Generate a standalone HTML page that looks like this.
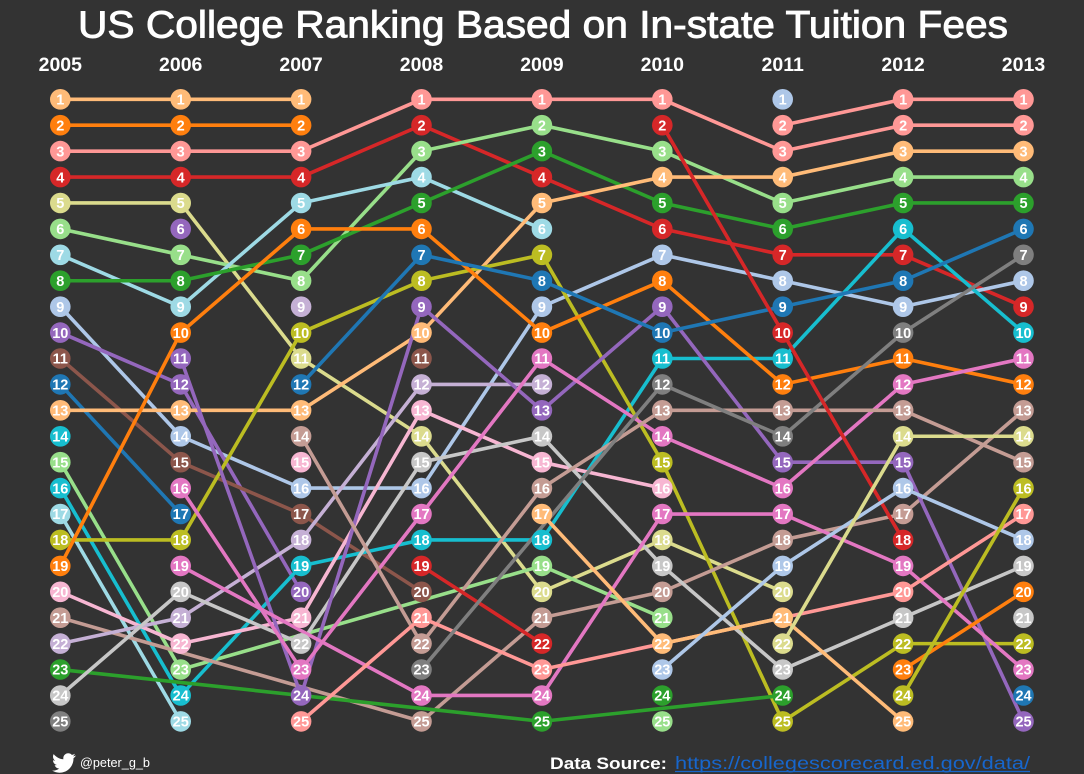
<!DOCTYPE html>
<html><head><meta charset="utf-8"><style>
html,body{margin:0;padding:0;background:#333333;}
svg{display:block;}
.lo{fill:#ffbb78}.o{fill:#ff7f0e}.lr{fill:#ff9896}.r{fill:#d62728}.lol{fill:#dbdb8d}.lg{fill:#98df8a}.lc{fill:#9edae5}.g{fill:#2ca02c}.lb{fill:#aec7e8}.p{fill:#9467bd}.br{fill:#8c564b}.b{fill:#1f77b4}.c{fill:#17becf}.pk{fill:#f7b6d2}.lbr{fill:#c49c94}.lp{fill:#c5b0d5}.lgy{fill:#c7c7c7}.gy{fill:#7f7f7f}.ol{fill:#bcbd22}.m{fill:#e377c2}
.col text{fill:#fff;font-family:"Liberation Sans",Arial,sans-serif;font-weight:bold;font-size:14.5px;text-anchor:middle;}
polyline{vector-effect:non-scaling-stroke;}
</style></head><body>
<svg width="1084" height="774" viewBox="0 0 1084 774" xmlns="http://www.w3.org/2000/svg">
<rect width="1084" height="774" fill="#333333"/>
<text x="78" y="37.5" fill="#fff" stroke="#fff" stroke-width="0.9" font-family="Liberation Sans, Arial, sans-serif" font-size="38" textLength="930" lengthAdjust="spacingAndGlyphs">US College Ranking Based on In-state Tuition Fees</text>
<g fill="#fff" font-family="Liberation Sans, Arial, sans-serif" font-weight="bold" font-size="19.5" text-anchor="middle">
<text x="60.3" y="71">2005</text><text x="180.7" y="71">2006</text><text x="301.1" y="71">2007</text><text x="421.5" y="71">2008</text><text x="541.9" y="71">2009</text><text x="662.3" y="71">2010</text><text x="782.7" y="71">2011</text><text x="903.1" y="71">2012</text><text x="1023.5" y="71">2013</text>
</g>
<g transform="translate(60.3,73.38) scale(120.4,25.92)" fill="none" stroke-width="3.6" stroke-linejoin="round" stroke-linecap="round">
<polyline vector-effect="non-scaling-stroke" stroke="#ffbb78" points="0,1 1,1 2,1"/>
<polyline vector-effect="non-scaling-stroke" stroke="#ff7f0e" points="0,2 1,2 2,2"/>
<polyline vector-effect="non-scaling-stroke" stroke="#ff9896" points="0,3 1,3 2,3 3,1 4,1 5,1 6,3 7,2 8,2"/>
<polyline vector-effect="non-scaling-stroke" stroke="#ff9896" points="6,2 7,1 8,1"/>
<polyline vector-effect="non-scaling-stroke" stroke="#d62728" points="0,4 1,4 2,4 3,2 4,4 5,6 6,7 7,7 8,9"/>
<polyline vector-effect="non-scaling-stroke" stroke="#dbdb8d" points="0,5 1,5 2,11 3,14 4,20 5,18 6,20"/>
<polyline vector-effect="non-scaling-stroke" stroke="#98df8a" points="0,6 1,7 2,8 3,3 4,2 5,3 6,5 7,4 8,4"/>
<polyline vector-effect="non-scaling-stroke" stroke="#9edae5" points="0,7 1,9 2,5 3,4 4,6"/>
<polyline vector-effect="non-scaling-stroke" stroke="#2ca02c" points="0,8 1,8 2,7 3,5 4,3 5,5 6,6 7,5 8,5"/>
<polyline vector-effect="non-scaling-stroke" stroke="#aec7e8" points="0,9 1,14 2,16 3,16 4,9 5,7 6,8 7,9 8,8"/>
<polyline vector-effect="non-scaling-stroke" stroke="#9467bd" points="0,10 1,12 2,20"/>
<polyline vector-effect="non-scaling-stroke" stroke="#8c564b" points="0,11 1,15 2,17 3,20"/>
<polyline vector-effect="non-scaling-stroke" stroke="#1f77b4" points="0,12 1,17"/>
<polyline vector-effect="non-scaling-stroke" stroke="#ffbb78" points="0,13 1,13 2,13 3,10 4,5 5,4 6,4 7,3 8,3"/>
<polyline vector-effect="non-scaling-stroke" stroke="#98df8a" points="0,15 1,23 4,19 5,21"/>
<polyline vector-effect="non-scaling-stroke" stroke="#17becf" points="0,16 1,24 2,19 3,18 4,18 5,11 6,11 7,6 8,10"/>
<polyline vector-effect="non-scaling-stroke" stroke="#9edae5" points="0,17 1,25"/>
<polyline vector-effect="non-scaling-stroke" stroke="#bcbd22" points="0,18 1,18 2,10 3,8 4,7 5,15 6,25 7,22 8,22"/>
<polyline vector-effect="non-scaling-stroke" stroke="#ff7f0e" points="0,19 1,10 2,6 3,6 4,10 5,8 6,12 7,11 8,12"/>
<polyline vector-effect="non-scaling-stroke" stroke="#f7b6d2" points="0,20 1,22 2,21 3,13 4,15 5,16"/>
<polyline vector-effect="non-scaling-stroke" stroke="#c49c94" points="0,21 3,25 4,21 5,20 6,18 7,17 8,13"/>
<polyline vector-effect="non-scaling-stroke" stroke="#c5b0d5" points="0,22 1,21 2,18 3,12 4,12"/>
<polyline vector-effect="non-scaling-stroke" stroke="#2ca02c" points="0,23 4,25 6,24"/>
<polyline vector-effect="non-scaling-stroke" stroke="#c7c7c7" points="0,24 1,20 2,22 3,15 4,14 5,19 6,23 7,21 8,19"/>
<polyline vector-effect="non-scaling-stroke" stroke="#9467bd" points="1,11 2,24 3,9 4,13 5,9 6,15 7,15 8,25"/>
<polyline vector-effect="non-scaling-stroke" stroke="#e377c2" points="1,16 2,23 3,17 4,11 5,14 6,16 7,12 8,11"/>
<polyline vector-effect="non-scaling-stroke" stroke="#e377c2" points="1,19 3,24 4,24 5,17 6,17 7,19 8,23"/>
<polyline vector-effect="non-scaling-stroke" stroke="#1f77b4" points="2,12 3,7 4,8 5,10 6,9 7,8 8,6"/>
<polyline vector-effect="non-scaling-stroke" stroke="#c49c94" points="2,14 3,22 4,16 5,13 6,13 7,13 8,15"/>
<polyline vector-effect="non-scaling-stroke" stroke="#ff9896" points="2,25 3,21 4,23 7,20 8,17"/>
<polyline vector-effect="non-scaling-stroke" stroke="#d62728" points="3,19 4,22"/>
<polyline vector-effect="non-scaling-stroke" stroke="#7f7f7f" points="3,23 5,12 6,14 7,10 8,7"/>
<polyline vector-effect="non-scaling-stroke" stroke="#ffbb78" points="4,17 5,22 6,21 7,25"/>
<polyline vector-effect="non-scaling-stroke" stroke="#d62728" points="5,2 6,10 7,18"/>
<polyline vector-effect="non-scaling-stroke" stroke="#aec7e8" points="5,23 6,19 7,16 8,18"/>
<polyline vector-effect="non-scaling-stroke" stroke="#dbdb8d" points="6,22 7,14 8,14"/>
<polyline vector-effect="non-scaling-stroke" stroke="#ff7f0e" points="7,23 8,20"/>
<polyline vector-effect="non-scaling-stroke" stroke="#bcbd22" points="7,24 8,16"/>
</g>

<g class="col" transform="translate(60.3,0)">
<circle r="10.3" cy="99.3" class="lo"/><text y="104.5">1</text>
<circle r="10.3" cy="125.2" class="o"/><text y="130.4">2</text>
<circle r="10.3" cy="151.1" class="lr"/><text y="156.3">3</text>
<circle r="10.3" cy="177.1" class="r"/><text y="182.3">4</text>
<circle r="10.3" cy="203.0" class="lol"/><text y="208.2">5</text>
<circle r="10.3" cy="228.9" class="lg"/><text y="234.1">6</text>
<circle r="10.3" cy="254.8" class="lc"/><text y="260.0">7</text>
<circle r="10.3" cy="280.7" class="g"/><text y="285.9">8</text>
<circle r="10.3" cy="306.7" class="lb"/><text y="311.9">9</text>
<circle r="10.3" cy="332.6" class="p"/><text y="337.8">10</text>
<circle r="10.3" cy="358.5" class="br"/><text y="363.7">11</text>
<circle r="10.3" cy="384.4" class="b"/><text y="389.6">12</text>
<circle r="10.3" cy="410.3" class="lo"/><text y="415.5">13</text>
<circle r="10.3" cy="436.3" class="c"/><text y="441.5">14</text>
<circle r="10.3" cy="462.2" class="lg"/><text y="467.4">15</text>
<circle r="10.3" cy="488.1" class="c"/><text y="493.3">16</text>
<circle r="10.3" cy="514.0" class="lc"/><text y="519.2">17</text>
<circle r="10.3" cy="539.9" class="ol"/><text y="545.1">18</text>
<circle r="10.3" cy="565.9" class="o"/><text y="571.1">19</text>
<circle r="10.3" cy="591.8" class="pk"/><text y="597.0">20</text>
<circle r="10.3" cy="617.7" class="lbr"/><text y="622.9">21</text>
<circle r="10.3" cy="643.6" class="lp"/><text y="648.8">22</text>
<circle r="10.3" cy="669.5" class="g"/><text y="674.7">23</text>
<circle r="10.3" cy="695.5" class="lgy"/><text y="700.7">24</text>
<circle r="10.3" cy="721.4" class="gy"/><text y="726.6">25</text>
</g>

<g class="col" transform="translate(180.7,0)">
<circle r="10.3" cy="99.3" class="lo"/><text y="104.5">1</text>
<circle r="10.3" cy="125.2" class="o"/><text y="130.4">2</text>
<circle r="10.3" cy="151.1" class="lr"/><text y="156.3">3</text>
<circle r="10.3" cy="177.1" class="r"/><text y="182.3">4</text>
<circle r="10.3" cy="203.0" class="lol"/><text y="208.2">5</text>
<circle r="10.3" cy="228.9" class="p"/><text y="234.1">6</text>
<circle r="10.3" cy="254.8" class="lg"/><text y="260.0">7</text>
<circle r="10.3" cy="280.7" class="g"/><text y="285.9">8</text>
<circle r="10.3" cy="306.7" class="lc"/><text y="311.9">9</text>
<circle r="10.3" cy="332.6" class="o"/><text y="337.8">10</text>
<circle r="10.3" cy="358.5" class="p"/><text y="363.7">11</text>
<circle r="10.3" cy="384.4" class="p"/><text y="389.6">12</text>
<circle r="10.3" cy="410.3" class="lo"/><text y="415.5">13</text>
<circle r="10.3" cy="436.3" class="lb"/><text y="441.5">14</text>
<circle r="10.3" cy="462.2" class="br"/><text y="467.4">15</text>
<circle r="10.3" cy="488.1" class="m"/><text y="493.3">16</text>
<circle r="10.3" cy="514.0" class="b"/><text y="519.2">17</text>
<circle r="10.3" cy="539.9" class="ol"/><text y="545.1">18</text>
<circle r="10.3" cy="565.9" class="m"/><text y="571.1">19</text>
<circle r="10.3" cy="591.8" class="lgy"/><text y="597.0">20</text>
<circle r="10.3" cy="617.7" class="lp"/><text y="622.9">21</text>
<circle r="10.3" cy="643.6" class="pk"/><text y="648.8">22</text>
<circle r="10.3" cy="669.5" class="lg"/><text y="674.7">23</text>
<circle r="10.3" cy="695.5" class="c"/><text y="700.7">24</text>
<circle r="10.3" cy="721.4" class="lc"/><text y="726.6">25</text>
</g>

<g class="col" transform="translate(301.1,0)">
<circle r="10.3" cy="99.3" class="lo"/><text y="104.5">1</text>
<circle r="10.3" cy="125.2" class="o"/><text y="130.4">2</text>
<circle r="10.3" cy="151.1" class="lr"/><text y="156.3">3</text>
<circle r="10.3" cy="177.1" class="r"/><text y="182.3">4</text>
<circle r="10.3" cy="203.0" class="lc"/><text y="208.2">5</text>
<circle r="10.3" cy="228.9" class="o"/><text y="234.1">6</text>
<circle r="10.3" cy="254.8" class="g"/><text y="260.0">7</text>
<circle r="10.3" cy="280.7" class="lg"/><text y="285.9">8</text>
<circle r="10.3" cy="306.7" class="lp"/><text y="311.9">9</text>
<circle r="10.3" cy="332.6" class="ol"/><text y="337.8">10</text>
<circle r="10.3" cy="358.5" class="lol"/><text y="363.7">11</text>
<circle r="10.3" cy="384.4" class="b"/><text y="389.6">12</text>
<circle r="10.3" cy="410.3" class="lo"/><text y="415.5">13</text>
<circle r="10.3" cy="436.3" class="lbr"/><text y="441.5">14</text>
<circle r="10.3" cy="462.2" class="pk"/><text y="467.4">15</text>
<circle r="10.3" cy="488.1" class="lb"/><text y="493.3">16</text>
<circle r="10.3" cy="514.0" class="br"/><text y="519.2">17</text>
<circle r="10.3" cy="539.9" class="lp"/><text y="545.1">18</text>
<circle r="10.3" cy="565.9" class="c"/><text y="571.1">19</text>
<circle r="10.3" cy="591.8" class="p"/><text y="597.0">20</text>
<circle r="10.3" cy="617.7" class="pk"/><text y="622.9">21</text>
<circle r="10.3" cy="643.6" class="lgy"/><text y="648.8">22</text>
<circle r="10.3" cy="669.5" class="m"/><text y="674.7">23</text>
<circle r="10.3" cy="695.5" class="p"/><text y="700.7">24</text>
<circle r="10.3" cy="721.4" class="lr"/><text y="726.6">25</text>
</g>

<g class="col" transform="translate(421.5,0)">
<circle r="10.3" cy="99.3" class="lr"/><text y="104.5">1</text>
<circle r="10.3" cy="125.2" class="r"/><text y="130.4">2</text>
<circle r="10.3" cy="151.1" class="lg"/><text y="156.3">3</text>
<circle r="10.3" cy="177.1" class="lc"/><text y="182.3">4</text>
<circle r="10.3" cy="203.0" class="g"/><text y="208.2">5</text>
<circle r="10.3" cy="228.9" class="o"/><text y="234.1">6</text>
<circle r="10.3" cy="254.8" class="b"/><text y="260.0">7</text>
<circle r="10.3" cy="280.7" class="ol"/><text y="285.9">8</text>
<circle r="10.3" cy="306.7" class="p"/><text y="311.9">9</text>
<circle r="10.3" cy="332.6" class="lo"/><text y="337.8">10</text>
<circle r="10.3" cy="358.5" class="br"/><text y="363.7">11</text>
<circle r="10.3" cy="384.4" class="lp"/><text y="389.6">12</text>
<circle r="10.3" cy="410.3" class="pk"/><text y="415.5">13</text>
<circle r="10.3" cy="436.3" class="lol"/><text y="441.5">14</text>
<circle r="10.3" cy="462.2" class="lgy"/><text y="467.4">15</text>
<circle r="10.3" cy="488.1" class="lb"/><text y="493.3">16</text>
<circle r="10.3" cy="514.0" class="m"/><text y="519.2">17</text>
<circle r="10.3" cy="539.9" class="c"/><text y="545.1">18</text>
<circle r="10.3" cy="565.9" class="r"/><text y="571.1">19</text>
<circle r="10.3" cy="591.8" class="br"/><text y="597.0">20</text>
<circle r="10.3" cy="617.7" class="lr"/><text y="622.9">21</text>
<circle r="10.3" cy="643.6" class="lbr"/><text y="648.8">22</text>
<circle r="10.3" cy="669.5" class="gy"/><text y="674.7">23</text>
<circle r="10.3" cy="695.5" class="m"/><text y="700.7">24</text>
<circle r="10.3" cy="721.4" class="lbr"/><text y="726.6">25</text>
</g>

<g class="col" transform="translate(541.9,0)">
<circle r="10.3" cy="99.3" class="lr"/><text y="104.5">1</text>
<circle r="10.3" cy="125.2" class="lg"/><text y="130.4">2</text>
<circle r="10.3" cy="151.1" class="g"/><text y="156.3">3</text>
<circle r="10.3" cy="177.1" class="r"/><text y="182.3">4</text>
<circle r="10.3" cy="203.0" class="lo"/><text y="208.2">5</text>
<circle r="10.3" cy="228.9" class="lc"/><text y="234.1">6</text>
<circle r="10.3" cy="254.8" class="ol"/><text y="260.0">7</text>
<circle r="10.3" cy="280.7" class="b"/><text y="285.9">8</text>
<circle r="10.3" cy="306.7" class="lb"/><text y="311.9">9</text>
<circle r="10.3" cy="332.6" class="o"/><text y="337.8">10</text>
<circle r="10.3" cy="358.5" class="m"/><text y="363.7">11</text>
<circle r="10.3" cy="384.4" class="lp"/><text y="389.6">12</text>
<circle r="10.3" cy="410.3" class="p"/><text y="415.5">13</text>
<circle r="10.3" cy="436.3" class="lgy"/><text y="441.5">14</text>
<circle r="10.3" cy="462.2" class="pk"/><text y="467.4">15</text>
<circle r="10.3" cy="488.1" class="lbr"/><text y="493.3">16</text>
<circle r="10.3" cy="514.0" class="lo"/><text y="519.2">17</text>
<circle r="10.3" cy="539.9" class="c"/><text y="545.1">18</text>
<circle r="10.3" cy="565.9" class="lg"/><text y="571.1">19</text>
<circle r="10.3" cy="591.8" class="lol"/><text y="597.0">20</text>
<circle r="10.3" cy="617.7" class="lbr"/><text y="622.9">21</text>
<circle r="10.3" cy="643.6" class="r"/><text y="648.8">22</text>
<circle r="10.3" cy="669.5" class="lr"/><text y="674.7">23</text>
<circle r="10.3" cy="695.5" class="m"/><text y="700.7">24</text>
<circle r="10.3" cy="721.4" class="g"/><text y="726.6">25</text>
</g>

<g class="col" transform="translate(662.3,0)">
<circle r="10.3" cy="99.3" class="lr"/><text y="104.5">1</text>
<circle r="10.3" cy="125.2" class="r"/><text y="130.4">2</text>
<circle r="10.3" cy="151.1" class="lg"/><text y="156.3">3</text>
<circle r="10.3" cy="177.1" class="lo"/><text y="182.3">4</text>
<circle r="10.3" cy="203.0" class="g"/><text y="208.2">5</text>
<circle r="10.3" cy="228.9" class="r"/><text y="234.1">6</text>
<circle r="10.3" cy="254.8" class="lb"/><text y="260.0">7</text>
<circle r="10.3" cy="280.7" class="o"/><text y="285.9">8</text>
<circle r="10.3" cy="306.7" class="p"/><text y="311.9">9</text>
<circle r="10.3" cy="332.6" class="b"/><text y="337.8">10</text>
<circle r="10.3" cy="358.5" class="c"/><text y="363.7">11</text>
<circle r="10.3" cy="384.4" class="gy"/><text y="389.6">12</text>
<circle r="10.3" cy="410.3" class="lbr"/><text y="415.5">13</text>
<circle r="10.3" cy="436.3" class="m"/><text y="441.5">14</text>
<circle r="10.3" cy="462.2" class="ol"/><text y="467.4">15</text>
<circle r="10.3" cy="488.1" class="pk"/><text y="493.3">16</text>
<circle r="10.3" cy="514.0" class="m"/><text y="519.2">17</text>
<circle r="10.3" cy="539.9" class="lol"/><text y="545.1">18</text>
<circle r="10.3" cy="565.9" class="lgy"/><text y="571.1">19</text>
<circle r="10.3" cy="591.8" class="lbr"/><text y="597.0">20</text>
<circle r="10.3" cy="617.7" class="lg"/><text y="622.9">21</text>
<circle r="10.3" cy="643.6" class="lo"/><text y="648.8">22</text>
<circle r="10.3" cy="669.5" class="lb"/><text y="674.7">23</text>
<circle r="10.3" cy="695.5" class="g"/><text y="700.7">24</text>
<circle r="10.3" cy="721.4" class="lg"/><text y="726.6">25</text>
</g>

<g class="col" transform="translate(782.7,0)">
<circle r="10.3" cy="99.3" class="lb"/><text y="104.5">1</text>
<circle r="10.3" cy="125.2" class="lr"/><text y="130.4">2</text>
<circle r="10.3" cy="151.1" class="lr"/><text y="156.3">3</text>
<circle r="10.3" cy="177.1" class="lo"/><text y="182.3">4</text>
<circle r="10.3" cy="203.0" class="lg"/><text y="208.2">5</text>
<circle r="10.3" cy="228.9" class="g"/><text y="234.1">6</text>
<circle r="10.3" cy="254.8" class="r"/><text y="260.0">7</text>
<circle r="10.3" cy="280.7" class="lb"/><text y="285.9">8</text>
<circle r="10.3" cy="306.7" class="b"/><text y="311.9">9</text>
<circle r="10.3" cy="332.6" class="r"/><text y="337.8">10</text>
<circle r="10.3" cy="358.5" class="c"/><text y="363.7">11</text>
<circle r="10.3" cy="384.4" class="o"/><text y="389.6">12</text>
<circle r="10.3" cy="410.3" class="lbr"/><text y="415.5">13</text>
<circle r="10.3" cy="436.3" class="gy"/><text y="441.5">14</text>
<circle r="10.3" cy="462.2" class="p"/><text y="467.4">15</text>
<circle r="10.3" cy="488.1" class="m"/><text y="493.3">16</text>
<circle r="10.3" cy="514.0" class="m"/><text y="519.2">17</text>
<circle r="10.3" cy="539.9" class="lbr"/><text y="545.1">18</text>
<circle r="10.3" cy="565.9" class="lb"/><text y="571.1">19</text>
<circle r="10.3" cy="591.8" class="lol"/><text y="597.0">20</text>
<circle r="10.3" cy="617.7" class="lo"/><text y="622.9">21</text>
<circle r="10.3" cy="643.6" class="lol"/><text y="648.8">22</text>
<circle r="10.3" cy="669.5" class="lgy"/><text y="674.7">23</text>
<circle r="10.3" cy="695.5" class="g"/><text y="700.7">24</text>
<circle r="10.3" cy="721.4" class="ol"/><text y="726.6">25</text>
</g>

<g class="col" transform="translate(903.1,0)">
<circle r="10.3" cy="99.3" class="lr"/><text y="104.5">1</text>
<circle r="10.3" cy="125.2" class="lr"/><text y="130.4">2</text>
<circle r="10.3" cy="151.1" class="lo"/><text y="156.3">3</text>
<circle r="10.3" cy="177.1" class="lg"/><text y="182.3">4</text>
<circle r="10.3" cy="203.0" class="g"/><text y="208.2">5</text>
<circle r="10.3" cy="228.9" class="c"/><text y="234.1">6</text>
<circle r="10.3" cy="254.8" class="r"/><text y="260.0">7</text>
<circle r="10.3" cy="280.7" class="b"/><text y="285.9">8</text>
<circle r="10.3" cy="306.7" class="lb"/><text y="311.9">9</text>
<circle r="10.3" cy="332.6" class="gy"/><text y="337.8">10</text>
<circle r="10.3" cy="358.5" class="o"/><text y="363.7">11</text>
<circle r="10.3" cy="384.4" class="m"/><text y="389.6">12</text>
<circle r="10.3" cy="410.3" class="lbr"/><text y="415.5">13</text>
<circle r="10.3" cy="436.3" class="lol"/><text y="441.5">14</text>
<circle r="10.3" cy="462.2" class="p"/><text y="467.4">15</text>
<circle r="10.3" cy="488.1" class="lb"/><text y="493.3">16</text>
<circle r="10.3" cy="514.0" class="lbr"/><text y="519.2">17</text>
<circle r="10.3" cy="539.9" class="r"/><text y="545.1">18</text>
<circle r="10.3" cy="565.9" class="m"/><text y="571.1">19</text>
<circle r="10.3" cy="591.8" class="lr"/><text y="597.0">20</text>
<circle r="10.3" cy="617.7" class="lgy"/><text y="622.9">21</text>
<circle r="10.3" cy="643.6" class="ol"/><text y="648.8">22</text>
<circle r="10.3" cy="669.5" class="o"/><text y="674.7">23</text>
<circle r="10.3" cy="695.5" class="ol"/><text y="700.7">24</text>
<circle r="10.3" cy="721.4" class="lo"/><text y="726.6">25</text>
</g>

<g class="col" transform="translate(1023.5,0)">
<circle r="10.3" cy="99.3" class="lr"/><text y="104.5">1</text>
<circle r="10.3" cy="125.2" class="lr"/><text y="130.4">2</text>
<circle r="10.3" cy="151.1" class="lo"/><text y="156.3">3</text>
<circle r="10.3" cy="177.1" class="lg"/><text y="182.3">4</text>
<circle r="10.3" cy="203.0" class="g"/><text y="208.2">5</text>
<circle r="10.3" cy="228.9" class="b"/><text y="234.1">6</text>
<circle r="10.3" cy="254.8" class="gy"/><text y="260.0">7</text>
<circle r="10.3" cy="280.7" class="lb"/><text y="285.9">8</text>
<circle r="10.3" cy="306.7" class="r"/><text y="311.9">9</text>
<circle r="10.3" cy="332.6" class="c"/><text y="337.8">10</text>
<circle r="10.3" cy="358.5" class="m"/><text y="363.7">11</text>
<circle r="10.3" cy="384.4" class="o"/><text y="389.6">12</text>
<circle r="10.3" cy="410.3" class="lbr"/><text y="415.5">13</text>
<circle r="10.3" cy="436.3" class="lol"/><text y="441.5">14</text>
<circle r="10.3" cy="462.2" class="lbr"/><text y="467.4">15</text>
<circle r="10.3" cy="488.1" class="ol"/><text y="493.3">16</text>
<circle r="10.3" cy="514.0" class="lr"/><text y="519.2">17</text>
<circle r="10.3" cy="539.9" class="lb"/><text y="545.1">18</text>
<circle r="10.3" cy="565.9" class="lgy"/><text y="571.1">19</text>
<circle r="10.3" cy="591.8" class="o"/><text y="597.0">20</text>
<circle r="10.3" cy="617.7" class="lgy"/><text y="622.9">21</text>
<circle r="10.3" cy="643.6" class="ol"/><text y="648.8">22</text>
<circle r="10.3" cy="669.5" class="m"/><text y="674.7">23</text>
<circle r="10.3" cy="695.5" class="b"/><text y="700.7">24</text>
<circle r="10.3" cy="721.4" class="p"/><text y="726.6">25</text>
</g>

<g transform="translate(52,751)">
<path fill="#fff" d="M23.6 4.6c-.9.4-1.8.6-2.8.8 1-.6 1.8-1.6 2.1-2.7-.9.6-2 .9-3.1 1.2-.9-1-2.200-1.6-3.600-1.6-2.700 0-4.900 2.200-4.900 4.900 0 .4 0 .8.1 1.1C7.7 8.1 4.1 6.1 1.7 3.1c-.4.7-.7 1.6-.7 2.5 0 1.7.9 3.2 2.2 4.1-.8 0-1.600-.2-2.200-.6v.1c0 2.400 1.700 4.400 3.900 4.800-.4.1-.8.2-1.300.2-.3 0-.6 0-.9-.1.6 2 2.400 3.400 4.600 3.400-1.700 1.300-3.800 2.100-6.100 2.100-.4 0-.8 0-1.200-.1 2.200 1.400 4.800 2.200 7.500 2.200 9.100 0 14-7.500 14-14v-.6c1-.7 1.800-1.600 2.500-2.500z"/>
</g>
<text x="80" y="767" fill="#fff" font-family="Liberation Sans, Arial, sans-serif" font-size="12.5" textLength="70" lengthAdjust="spacingAndGlyphs">@peter_g_b</text>
<text x="550" y="769" fill="#fff" font-family="Liberation Sans, Arial, sans-serif" font-weight="bold" font-size="17" textLength="117" lengthAdjust="spacingAndGlyphs">Data Source:</text>
<text x="675" y="769" fill="#1766cc" font-family="Liberation Sans, Arial, sans-serif" font-size="17.5" textLength="355" lengthAdjust="spacingAndGlyphs">https://collegescorecard.ed.gov/data/</text>
<line x1="675" y1="771.5" x2="1030" y2="771.5" stroke="#1766cc" stroke-width="1.3"/>
</svg>
</body></html>
